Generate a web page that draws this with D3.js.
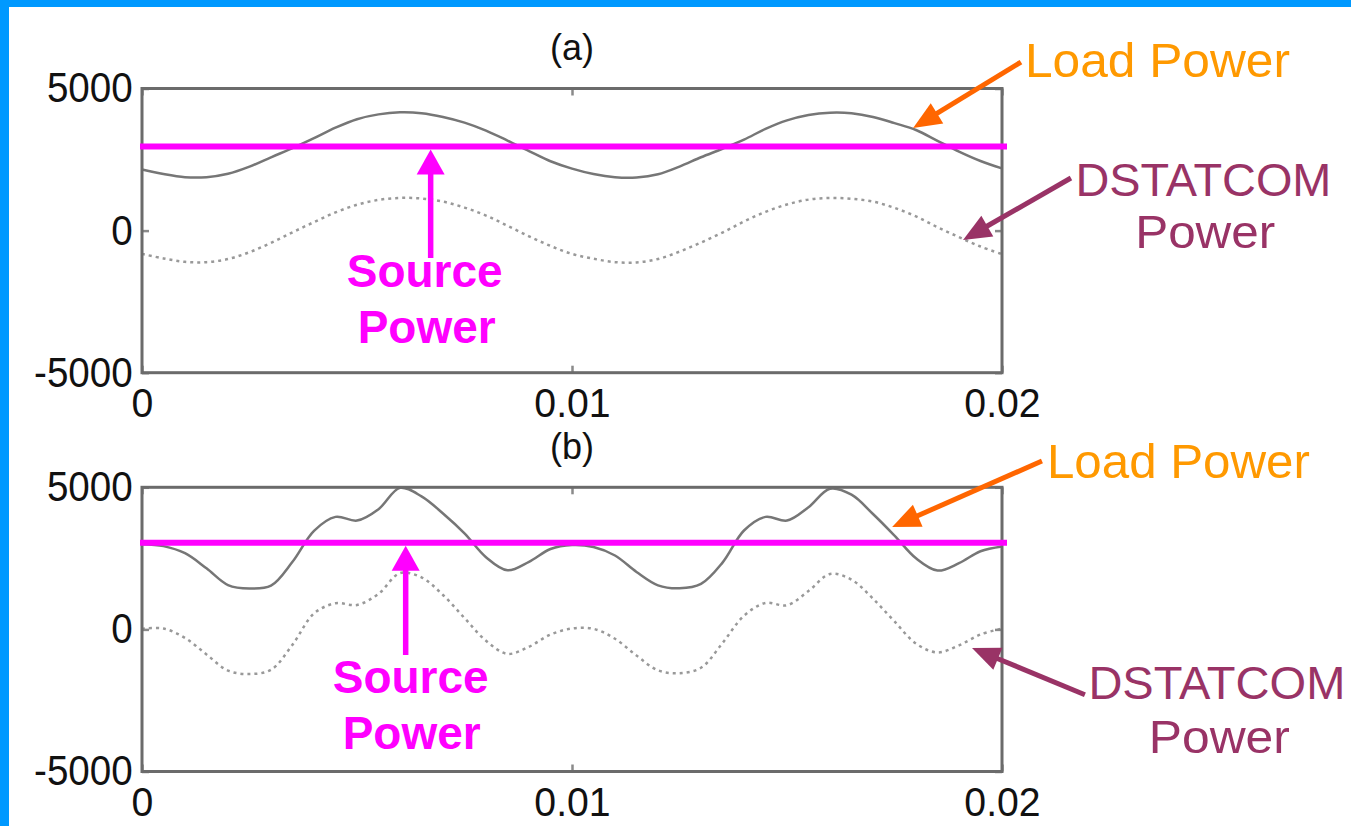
<!DOCTYPE html>
<html>
<head>
<meta charset="utf-8">
<script src="https://cdn.jsdelivr.net/npm/d3@7"></script>
<style>
html,body{margin:0;padding:0;background:#fff;overflow:hidden}
svg{display:block}
</style>
</head>
<body>
<svg id="chart" width="1351" height="826"></svg>
<script>
// ---------------- data ----------------
const time = [0,0.0005,0.001,0.0015,0.002,0.0025,0.003,0.0035,0.004,0.0045,
  0.005,0.0055,0.006,0.0065,0.007,0.0075,0.008,0.0085,0.009,0.0095,
  0.01,0.0105,0.011,0.0115,0.012,0.0125,0.013,0.0135,0.014,0.0145,
  0.015,0.0155,0.016,0.0165,0.017,0.0175,0.018,0.0185,0.019,0.0195,0.02];

const loadPowerA = [2150,1990,1880,1880,2000,2250,2580,2900,3250,3620,
  3920,4090,4160,4130,4000,3800,3520,3170,2800,2440,
  2180,1990,1880,1870,1980,2250,2580,2880,3200,3580,
  3880,4070,4150,4130,4000,3780,3540,3160,2780,2450,2190];
const dstatcomPowerA = [-820,-980,-1100,-1110,-1000,-760,-430,-60,300,640,
  910,1080,1150,1130,1020,810,530,170,-200,-540,
  -820,-990,-1110,-1120,-1000,-740,-420,-70,320,660,
  920,1090,1150,1120,1020,800,500,120,-230,-560,-830];
const sourcePowerA = 2960;

const loadPowerB = [3000,2930,2680,2150,1560,1440,1540,2380,3470,3960,
  3830,4230,4980,4680,4080,3380,2540,2080,2380,2830,
  2970,2900,2600,2020,1550,1445,1600,2350,3480,3960,
  3830,4300,4950,4740,4060,3300,2500,2070,2330,2750,2920];
const dstatcomPowerB = [20,30,-300,-880,-1450,-1570,-1420,-540,560,920,
  860,1250,1980,1830,1210,400,-400,-860,-610,-180,
  30,20,-330,-920,-1440,-1540,-1350,-480,480,930,
  850,1350,1950,1750,1080,280,-500,-810,-560,-180,30];
const sourcePowerB = 3050;

const panelTitles = ["(a)", "(b)"];
const xTicks = [0, 0.01, 0.02];
const xTickLabels = ["0", "0.01", "0.02"];
const yTicks = [-5000, 0, 5000];
const yTickLabels = ["-5000", "0", "5000"];
const xDomain = [0, 0.02];
const yDomain = [-5000, 5000];

// ---------------- layout / style ----------------
const W = 1351, H = 826;
const FONT = "'Liberation Sans', Arial, Helvetica, sans-serif";
const xRange = [142, 1002];
const panels = [
  { title: panelTitles[0], load: loadPowerA, dstatcom: dstatcomPowerA, source: sourcePowerA,
    yRange: [372.7, 88.5],
    // annotation anchors in data units (t, value)
    srcArrow: { t: 0.006713, bottom: -964 },
    srcText: [{ t: 0.006574, v: -1985, s: "Source" }, { t: 0.00662, v: -3955, s: "Power" }],
    loadArrow: { t1: 0.020441, v1: 5932, t2: 0.017933, v2: 3610 },
    loadText: { t: 0.020534, v: 5405, len: 265 },
    dstArrow: { t1: 0.021603, v1: 1851, t2: 0.019094, v2: -330 },
    dstText: [{ t: 0.021707, v: 1228, s: "DSTATCOM", len: 256 }, { t: 0.023098, v: -623, s: "Power", len: 140 }]
  },
  { title: panelTitles[1], load: loadPowerB, dstatcom: dstatcomPowerB, source: sourcePowerB,
    yRange: [771.5, 487.3],
    srcArrow: { t: 0.006132, bottom: -901 },
    srcText: [{ t: 0.006249, v: -2227, s: "Source" }, { t: 0.006272, v: -4208, s: "Power" }],
    loadArrow: { t1: 0.020929, v1: 5925, t2: 0.017445, v2: 3603 },
    loadText: { t: 0.021045, v: 5327, len: 263 },
    dstArrow: { t1: 0.021928, v1: -2301, t2: 0.019303, v2: -654 },
    dstText: [{ t: 0.022009, v: -2442, s: "DSTATCOM", len: 257 }, { t: 0.023415, v: -4338, s: "Power", len: 141 }]
  }
];

const svg = d3.select("#chart");
svg.append("rect").attr("width", W).attr("height", H).attr("fill", "#ffffff");
svg.append("rect").attr("x", 0).attr("y", 0).attr("width", W).attr("height", 7).attr("fill", "#0099ff");
svg.append("rect").attr("x", 0).attr("y", 0).attr("width", 9).attr("height", H).attr("fill", "#0099ff");

function arrow(g, x1, y1, x2, y2, color, width, headLen, headHalf) {
  const dx = x2 - x1, dy = y2 - y1, L = Math.hypot(dx, dy);
  const ux = dx / L, uy = dy / L, nx = -uy, ny = ux;
  const bx = x2 - ux * headLen, by = y2 - uy * headLen;
  g.append("line").attr("x1", x1).attr("y1", y1).attr("x2", bx + ux * 2).attr("y2", by + uy * 2)
    .attr("stroke", color).attr("stroke-width", width);
  g.append("polygon")
    .attr("points", [[x2, y2], [bx + nx * headHalf, by + ny * headHalf], [bx - nx * headHalf, by - ny * headHalf]].map(p => p.join(",")).join(" "))
    .attr("fill", color);
}

panels.forEach(p => {
  const x = d3.scaleLinear().domain(xDomain).range(xRange);
  const y = d3.scaleLinear().domain(yDomain).range(p.yRange);
  const g = svg.append("g");

  const line = d3.line().x((d, i) => x(time[i])).y(d => y(d)).curve(d3.curveCatmullRom.alpha(0.5));

  g.append("path").datum(p.dstatcom).attr("d", line)
    .attr("fill", "none").attr("stroke", "#999999").attr("stroke-width", 2.5)
    .attr("stroke-dasharray", "3 4");
  g.append("path").datum(p.load).attr("d", line)
    .attr("fill", "none").attr("stroke", "#767676").attr("stroke-width", 2.5);

  // axes
  const styleAxis = (sel, size) => {
    sel.select(".domain").remove();
    sel.selectAll(".tick line").attr("stroke", "#8a8a8a").attr("stroke-width", 2.5);
    sel.selectAll(".tick text").attr("fill", "#111").style("font-family", FONT).style("font-size", size + "px");
  };
  const left = g.append("g").attr("transform", `translate(${x(xDomain[0])},0)`)
    .call(d3.axisLeft(y).tickValues(yTicks).tickFormat((d, i) => yTickLabels[i])
      .tickSizeInner(-7).tickSizeOuter(0).tickPadding(10));
  styleAxis(left, 42);
  left.selectAll(".tick text").attr("transform", "scale(0.92,1)");

  const right = g.append("g").attr("transform", `translate(${x(xDomain[1])},0)`)
    .call(d3.axisRight(y).tickValues(yTicks).tickFormat("").tickSizeInner(-7).tickSizeOuter(0));
  styleAxis(right, 42);

  const bottom = g.append("g").attr("transform", `translate(0,${y(yDomain[0])})`)
    .call(d3.axisBottom(x).tickValues(xTicks).tickFormat((d, i) => xTickLabels[i])
      .tickSizeInner(-7).tickSizeOuter(0).tickPadding(16));
  styleAxis(bottom, 40);
  bottom.selectAll(".tick text").attr("y", 44.5).attr("dy", null).attr("transform", "scale(0.98,1)");

  const top = g.append("g").attr("transform", `translate(0,${y(yDomain[1])})`)
    .call(d3.axisTop(x).tickValues(xTicks).tickFormat("").tickSizeInner(-7).tickSizeOuter(0));
  styleAxis(top, 42);

  // frame
  g.append("rect")
    .attr("x", x(xDomain[0])).attr("y", y(yDomain[1]))
    .attr("width", x(xDomain[1]) - x(xDomain[0]))
    .attr("height", y(yDomain[0]) - y(yDomain[1]))
    .attr("fill", "none").attr("stroke", "#6b6b6b").attr("stroke-width", 3);

  // title
  g.append("text").attr("x", x((xDomain[0] + xDomain[1]) / 2)).attr("y", y(yDomain[1]) - 28.3)
    .attr("text-anchor", "middle").attr("fill", "#111")
    .style("font-family", FONT).style("font-size", "36px")
    .attr("transform", null).text(p.title);

  // source power line
  g.append("line")
    .attr("x1", x(xDomain[0]) - 2).attr("x2", x(xDomain[1]) + 5)
    .attr("y1", y(p.source)).attr("y2", y(p.source))
    .attr("stroke", "#ff00ff").attr("stroke-width", 6);

  // source arrow (vertical, pointing up to the line)
  const sx = x(p.srcArrow.t);
  arrow(g, sx, y(p.srcArrow.bottom), sx, y(p.source) + 3, "#ff00ff", 5.5, 25, 14);
  p.srcText.forEach(s => {
    g.append("text").attr("x", x(s.t)).attr("y", y(s.v)).attr("text-anchor", "middle")
      .attr("fill", "#ff00ff").style("font-family", FONT).style("font-size", "46px")
      .style("font-weight", "bold").text(s.s);
  });

  // load power annotation
  const la = p.loadArrow;
  arrow(g, x(la.t1), y(la.v1), x(la.t2), y(la.v2), "#ff6600", 5, 28, 12);
  g.append("text").attr("x", x(p.loadText.t)).attr("y", y(p.loadText.v))
    .attr("fill", "#ff9900").style("font-family", FONT).style("font-size", "49px")
    .attr("textLength", p.loadText.len).attr("lengthAdjust", "spacingAndGlyphs")
    .text("Load Power");

  // DSTATCOM power annotation
  const da = p.dstArrow;
  arrow(g, x(da.t1), y(da.v1), x(da.t2), y(da.v2), "#993366", 5, 28, 12);
  p.dstText.forEach(s => {
    g.append("text").attr("x", x(s.t)).attr("y", y(s.v))
      .attr("fill", "#993366").style("font-family", FONT).style("font-size", "47px")
      .attr("textLength", s.len).attr("lengthAdjust", "spacingAndGlyphs")
      .text(s.s);
  });
});
</script>
</body>
</html>
